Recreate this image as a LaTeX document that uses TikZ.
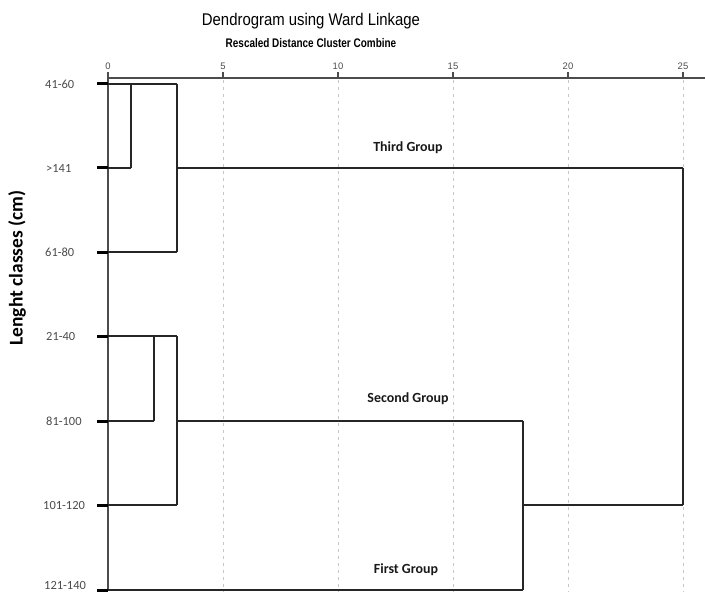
\documentclass[tikz,border=0pt]{standalone}
\usepackage{fontspec}
\setmainfont{Carlito}
\newfontfamily\arialf{Liberation Sans}
\begin{document}
\begin{tikzpicture}[x=1bp,y=-1bp,
  leaflab/.style={anchor=west, font=\fontsize{12.5}{12.5}\selectfont, text=black!70, inner sep=0pt},
  grouplab/.style={font=\bfseries\fontsize{14}{14}\selectfont, text=black!90, inner sep=0pt},
  ticklab/.style={font=\arialf\fontsize{9.5}{9.5}\selectfont, text=black!70, inner sep=0pt},
  link/.style={draw=black!85, line width=1.4bp},
  stub/.style={draw=black, line width=3bp},
  gridl/.style={draw=black!22, dash pattern=on 3bp off 4bp, line width=0.8bp},
  axisl/.style={draw=black!70, line width=1.8bp},
  tickl/.style={draw=black!70, line width=1.5bp}]
\useasboundingbox (0,0) rectangle (705,592);
\fill[white] (0,0) rectangle (705,592);

% titles
\node[inner sep=0pt] (title) at (311,21) {\scalebox{0.88}[1]{\arialf\fontsize{17}{17}\selectfont Dendrogram using Ward Linkage}};
\node[inner sep=0pt] (subtitle) at (311,43) {\scalebox{0.8}[1]{\arialf\bfseries\fontsize{12.5}{12.5}\selectfont Rescaled Distance Cluster Combine}};

% y-axis label
\node[rotate=90, inner sep=0pt, font=\bfseries\fontsize{19.5}{19.5}\selectfont] (ylab) at (17,268) {Lenght classes (cm)};

% grid lines
\foreach \v in {5,10,15,20,25} {
  \draw[gridl] ({108+23*\v},80) -- ({108+23*\v},592);
}

% top axis
\coordinate (ax0) at (108,78);
\coordinate (ax1) at (705,78);
\draw[axisl] (ax0) -- (ax1);
\foreach \v in {0,5,10,15,20,25} {
  \draw[tickl] ({108+23*\v},72) -- ({108+23*\v},78);
  \node[ticklab] (t\v) at ({108+23*\v},66) {\v};
}

% leaves
\coordinate (L1) at (108,84);
\coordinate (L2) at (108,168);
\coordinate (L3) at (108,252);
\coordinate (L4) at (108,336);
\coordinate (L5) at (108,421);
\coordinate (L6) at (108,505);
\coordinate (L7) at (108,590);

\node[leaflab] (n1) at (45,84) {41-60};
\node[leaflab] (n2) at (46,168) {>141};
\node[leaflab] (n3) at (45,252) {61-80};
\node[leaflab] (n4) at (46,336) {21-40};
\node[leaflab] (n5) at (46,421) {81-100};
\node[leaflab] (n6) at (43,505) {101-120};
\node[leaflab] (n7) at (44,585) {121-140};

% vertical axis line
\draw[link, draw=black!70] (ax0) -- (L7);

% leaf stubs
\foreach \i in {1,...,7} {
  \draw[stub] ([xshift=-11bp]L\i) -- (L\i);
}

% merge coordinates
\coordinate (a1) at (131,84);
\coordinate (a2) at (131,168);
\coordinate (b1) at (177,84);
\coordinate (b2) at (177,168);
\coordinate (b3) at (177,252);
\coordinate (c1) at (154,336);
\coordinate (c2) at (154,421);
\coordinate (d1) at (177,336);
\coordinate (d2) at (177,421);
\coordinate (d3) at (177,505);
\coordinate (e1) at (523,421);
\coordinate (e2) at (523,505);
\coordinate (e3) at (523,590);
\coordinate (f1) at (683,168);
\coordinate (f2) at (683,505);

% third group
\draw[link] (L1) -- (b1);
\draw[link] (a1) -- (a2);
\draw[link] (L2) -- (a2);
\draw[link] (L3) -- (b3);
\draw[link] (b1) -- (b3);
\draw[link] (b2) -- (f1);
% second group
\draw[link] (L4) -- (d1);
\draw[link] (c1) -- (c2);
\draw[link] (L5) -- (c2);
\draw[link] (L6) -- (d3);
\draw[link] (d1) -- (d3);
\draw[link] (d2) -- (e1);
% first group
\draw[link] (e1) -- (e3);
\draw[link] (L7) -- (e3);
\draw[link] (e2) -- (f2);
\draw[link] (f1) -- (f2);

% group labels
\node[grouplab] (g3) at (408,148) {Third Group};
\node[grouplab] (g2) at (408,399) {Second Group};
\node[grouplab] (g1) at (406,570) {First Group};
\end{tikzpicture}
\end{document}
